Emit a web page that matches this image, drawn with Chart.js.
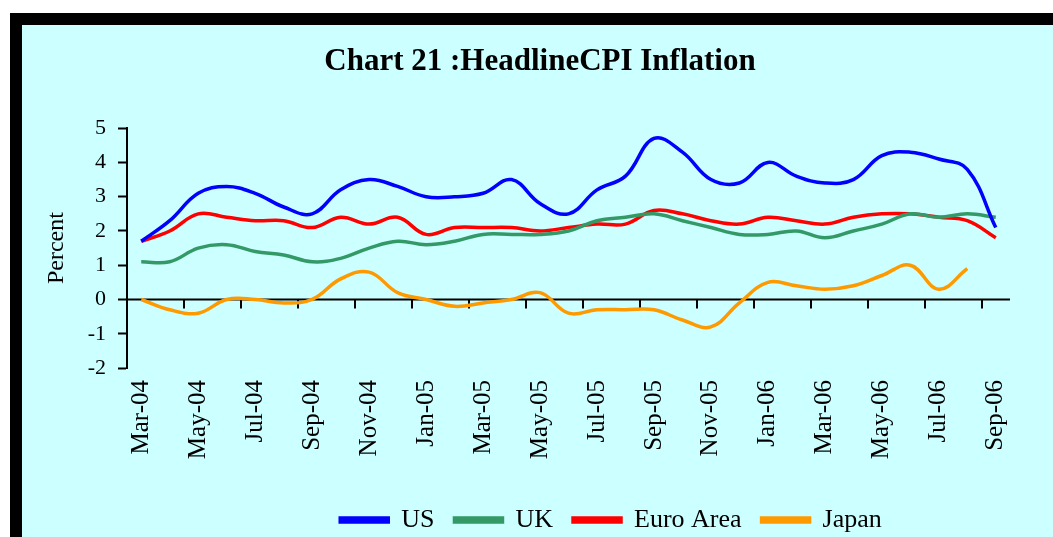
<!DOCTYPE html>
<html>
<head>
<meta charset="utf-8">
<script src="https://cdn.jsdelivr.net/npm/chart.js@4.4.0/dist/chart.umd.min.js"></script>
<style>
  html, body { margin: 0; padding: 0; background: #fff; overflow: hidden; }
  .frame {
    position: absolute;
    left: 10px;
    top: 13px;
    width: 1031px;
    height: 530px;
    border-left: 12px solid #000;
    border-top: 12px solid #000;
    background: #ccffff;
  }
  .frame canvas { display: block; }
</style>
</head>
<body>
<div class="frame">
  <canvas id="cpi" width="1031" height="518"></canvas>
</div>
<script>
const months = [
  'Mar-04', 'Apr-04', 'May-04', 'Jun-04', 'Jul-04', 'Aug-04', 'Sep-04', 'Oct-04', 'Nov-04', 'Dec-04',
  'Jan-05', 'Feb-05', 'Mar-05', 'Apr-05', 'May-05', 'Jun-05', 'Jul-05', 'Aug-05', 'Sep-05', 'Oct-05',
  'Nov-05', 'Dec-05', 'Jan-06', 'Feb-06', 'Mar-06', 'Apr-06', 'May-06', 'Jun-06', 'Jul-06', 'Aug-06',
  'Sep-06',
];

const usCpi = [1.7, 2.3, 3.1, 3.3, 3.1, 2.7, 2.5, 3.2, 3.5, 3.3, 3.0, 3.0, 3.1, 3.5, 2.8, 2.5,
  3.2, 3.6, 4.7, 4.3, 3.5, 3.4, 4.0, 3.6, 3.4, 3.5, 4.2, 4.3, 4.1, 3.8, 2.1];
const ukCpi = [1.1, 1.1, 1.5, 1.6, 1.4, 1.3, 1.1, 1.2, 1.5, 1.7, 1.6, 1.7, 1.9, 1.9, 1.9, 2.0,
  2.3, 2.4, 2.5, 2.3, 2.1, 1.9, 1.9, 2.0, 1.8, 2.0, 2.2, 2.5, 2.4, 2.5, 2.4];
const euroCpi = [1.7, 2.0, 2.5, 2.4, 2.3, 2.3, 2.1, 2.4, 2.2, 2.4, 1.9, 2.1, 2.1, 2.1, 2.0, 2.1,
  2.2, 2.2, 2.6, 2.5, 2.3, 2.2, 2.4, 2.3, 2.2, 2.4, 2.5, 2.5, 2.4, 2.3, 1.8];
const japanCpi = [0.0, -0.3, -0.4, 0.0, 0.0, -0.1, 0.0, 0.6, 0.8, 0.2, 0.0, -0.2, -0.1, 0.0, 0.2, -0.4,
  -0.3, -0.3, -0.3, -0.6, -0.8, -0.1, 0.5, 0.4, 0.3, 0.4, 0.7, 1.0, 0.3, 0.9, null];

const serif = "'Liberation Serif', 'Times New Roman', serif";

// x axis sits at zero, with a tick every two months
const zeroAxis = {
  id: 'zeroAxis',
  beforeDatasetsDraw(chart) {
    const { ctx, chartArea, scales: { x, y } } = chart;
    const y0 = y.getPixelForValue(0);
    const half = (x.getPixelForValue(1) - x.getPixelForValue(0)) / 2;
    ctx.save();
    ctx.strokeStyle = '#000';
    ctx.lineWidth = 2;
    ctx.beginPath();
    ctx.moveTo(chartArea.left, y0);
    ctx.lineTo(chartArea.right, y0);
    for (let i = 2; i < months.length; i += 2) {
      const px = Math.round(x.getPixelForValue(i) - half);
      ctx.moveTo(px, y0);
      ctx.lineTo(px, y0 + 9);
    }
    ctx.stroke();
    ctx.restore();
  },
};

// title and legend are not centred on the canvas in the original
const shiftBoxes = {
  id: 'shiftBoxes',
  afterLayout(chart, args, opts) {
    chart.legend.left += opts.legendDx;
    chart.legend.right += opts.legendDx;
    chart.titleBlock.left += opts.titleDx;
    chart.titleBlock.right += opts.titleDx;
  },
};

function line(label, data, color) {
  return {
    label: label,
    data: data,
    borderColor: color,
    backgroundColor: color,
    borderWidth: 3.5,
    pointRadius: 0,
    tension: 0.4,
    fill: false,
  };
}

new Chart(document.getElementById('cpi'), {
  type: 'line',
  data: {
    labels: months,
    datasets: [
      line('US', usCpi, '#0000ff'),
      line('UK', ukCpi, '#339966'),
      line('Euro Area', euroCpi, '#ff0000'),
      line('Japan', japanCpi, '#ff9900'),
    ],
  },
  options: {
    responsive: false,
    animation: false,
    layout: {
      padding: { left: 0, right: 43, top: 0, bottom: 0 },
    },
    scales: {
      x: {
        offset: true,
        grid: { display: false, drawTicks: false },
        border: { display: false },
        ticks: {
          autoSkip: false,
          minRotation: 90,
          maxRotation: 90,
          padding: 12,
          color: '#000',
          font: { family: serif, size: 25 },
          callback: (value, index) => (index % 2 === 0 ? months[index] : ''),
        },
        afterFit: (scale) => { scale.height = 119; },
      },
      y: {
        min: -2,
        max: 5,
        ticks: {
          stepSize: 1,
          padding: 12,
          color: '#000',
          font: { family: serif, size: 22 },
        },
        grid: {
          drawOnChartArea: false,
          tickLength: 9,
          tickWidth: 2,
          tickColor: '#000',
        },
        border: { display: true, color: '#000', width: 2 },
        title: {
          display: true,
          text: 'Percent',
          color: '#000',
          font: { family: serif, size: 24 },
          padding: { top: 20, bottom: 0 },
        },
        afterFit: (scale) => { scale.width = 105; },
      },
    },
    plugins: {
      title: {
        display: true,
        text: 'Chart 21 :HeadlineCPI Inflation',
        color: '#000',
        font: { family: serif, size: 31, weight: 'bold', lineHeight: 1.2 },
        padding: { top: 18, bottom: 48 },
      },
      legend: {
        position: 'bottom',
        labels: {
          boxWidth: 48,
          boxHeight: 4,
          padding: 20,
          color: '#000',
          font: { family: serif, size: 26 },
        },
      },
      shiftBoxes: { legendDx: 95, titleDx: 24 },
      tooltip: { enabled: false },
    },
  },
  plugins: [zeroAxis, shiftBoxes],
});
</script>
</body>
</html>
